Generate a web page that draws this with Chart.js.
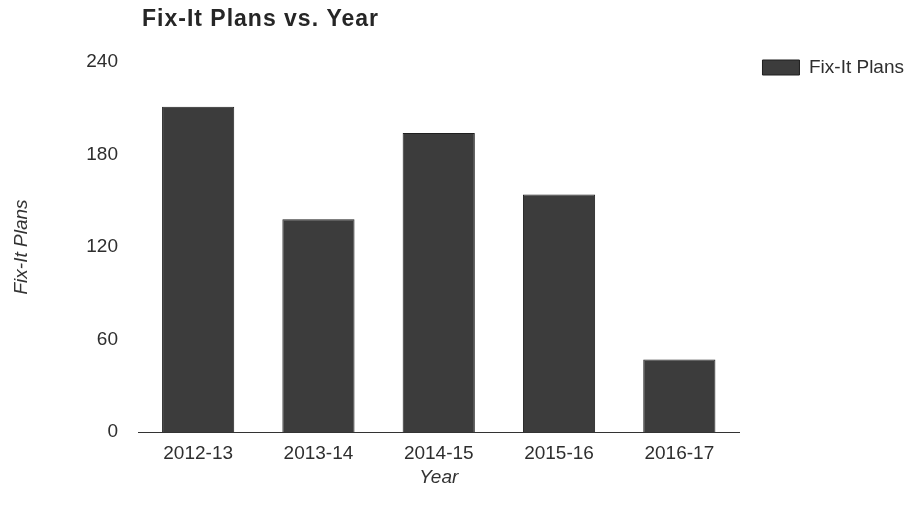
<!DOCTYPE html>
<html>
<head>
<meta charset="utf-8">
<script src="https://cdn.jsdelivr.net/npm/chart.js@4/dist/chart.umd.min.js"></script>
<style>
  html, body { margin: 0; padding: 0; background: #ffffff; }
  #wrap { width: 908px; height: 513px; }
</style>
</head>
<body>
<div id="wrap"><canvas id="c" width="908" height="513"></canvas></div>
<script>
const chartTitle = "Fix-It Plans vs. Year";
const categories = ["2012-13", "2013-14", "2014-15", "2015-16", "2016-17"];
const seriesName = "Fix-It Plans";
const fixItPlans = [211, 138, 194, 154, 47];
const yTicks = [0, 60, 120, 180, 240];
const xAxisTitle = "Year";
const yAxisTitle = "Fix-It Plans";

Chart.defaults.font.family = "'Liberation Sans', Arial, Helvetica, sans-serif";
Chart.defaults.color = "#2e2e2e";

const titlePlugin = {
  id: 'leftTitle',
  afterDraw(chart) {
    const ctx = chart.ctx;
    ctx.save();
    ctx.font = "bold 23px 'Liberation Sans', Arial, sans-serif";
    try { ctx.letterSpacing = "1px"; } catch (e) {}
    ctx.fillStyle = "#262626";
    ctx.textBaseline = "alphabetic";
    ctx.textAlign = "left";
    ctx.fillText(chartTitle, 142, 26);
    ctx.restore();
  }
};

new Chart(document.getElementById('c'), {
  type: 'bar',
  data: {
    labels: categories,
    datasets: [{
      label: seriesName,
      data: fixItPlans,
      backgroundColor: '#3c3c3c',
      borderColor: '#1f1f1f',
      borderWidth: 1,
      barPercentage: 0.6,
      categoryPercentage: 1.0
    }]
  },
  options: {
    responsive: false,
    animation: false,
    layout: { padding: { top: 35, left: 6, right: -6, bottom: 20 } },
    plugins: {
      title: { display: false },
      tooltip: { enabled: false },
      legend: {
        display: true,
        position: 'right',
        align: 'start',
        labels: {
          boxWidth: 37,
          boxHeight: 15,
          padding: 23,
          color: '#2e2e2e',
          font: { size: 19 }
        }
      }
    },
    scales: {
      x: {
        grid: { display: false, drawTicks: false },
        border: { display: true, color: '#333333', width: 1 },
        ticks: { padding: 10, color: '#2e2e2e', font: { size: 19 } },
        title: { display: true, text: xAxisTitle, color: '#333333', font: { size: 19, style: 'italic' } },
        afterFit(scale) { scale.height = 61; }
      },
      y: {
        min: 0,
        max: 240,
        grid: { display: false, drawTicks: false },
        border: { display: false },
        afterBuildTicks(scale) { scale.ticks = yTicks.map(v => ({ value: v })); },
        ticks: { padding: 20, color: '#2e2e2e', font: { size: 19 } },
        title: { display: true, text: yAxisTitle, color: '#333333', font: { size: 19, style: 'italic' } },
        afterFit(scale) { scale.width = 132; scale.paddingTop = 62; }
      }
    }
  },
  plugins: [titlePlugin]
});
</script>
</body>
</html>
